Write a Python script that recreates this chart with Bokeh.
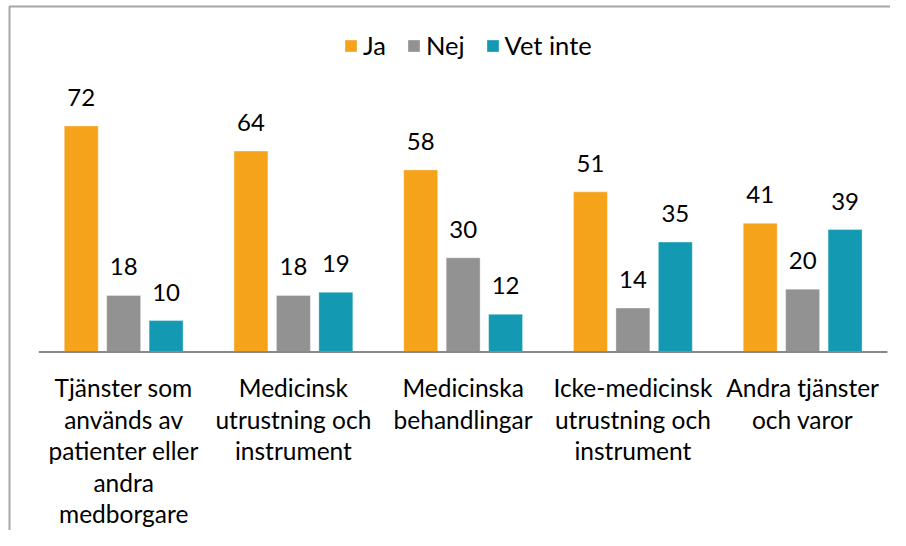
from bokeh.plotting import figure
from bokeh.models import ColumnDataSource, Range1d, Legend, LegendItem
from bokeh.transform import dodge
from bokeh.core.properties import value
from bokeh.embed import file_html
from bokeh.resources import INLINE

categories = [
    "Tjänster som\nanvänds av\npatienter eller\nandra\nmedborgare",
    "Medicinsk\nutrustning och\ninstrument",
    "Medicinska\nbehandlingar",
    "Icke-medicinsk\nutrustning och\ninstrument",
    "Andra tjänster\noch varor",
]
series_names = ["Ja", "Nej", "Vet inte"]
ja = [72, 64, 58, 51, 41]
nej = [18, 18, 30, 14, 20]
vet_inte = [10, 19, 12, 35, 39]

colors = ["#F5A31B", "#929292", "#1399B1"]
FONT = "Lato"
W, H = 890, 530

n = len(categories)
xc = [i + 0.5 for i in range(n)]

PX_X = 169.74   # pixels per category
X0 = 38.3       # pixel of first category start
PX_Y = 3.14     # pixels per unit
Y0 = 351.5      # pixel of baseline

x_lo, x_hi = -X0 / PX_X, (W - X0) / PX_X
y_lo, y_hi = -(H - Y0) / PX_Y, Y0 / PX_Y

p = figure(width=W, height=H, output_backend="svg", toolbar_location=None,
           x_range=Range1d(x_lo, x_hi), y_range=Range1d(y_lo, y_hi),
           min_border=0, min_border_left=0, min_border_right=0,
           min_border_top=0, min_border_bottom=0)
p.axis.visible = False
p.grid.visible = False
p.outline_line_color = None
p.background_fill_color = "white"
p.border_fill_color = "white"

src = ColumnDataSource(dict(x=xc, ja=ja, nej=nej, vet=vet_inte,
                            ja_t=[str(v) for v in ja], nej_t=[str(v) for v in nej],
                            vet_t=[str(v) for v in vet_inte]))

offsets = [-0.25, 0.0, 0.25]
fields = ["ja", "nej", "vet"]
renderers = []
for off, f, c in zip(offsets, fields, colors):
    r = p.vbar(x=dodge("x", off), top=f, bottom=0, width=0.2, source=src,
               fill_color=c, line_color="white", line_alpha=0.35, line_width=1)
    renderers.append(r)
    p.text(x=dodge("x", off), y=f, text=f + "_t", source=src,
           text_font=value(FONT), text_font_size="24px", text_color="black",
           text_align="center", text_baseline="alphabetic", y_offset=-28.5)

# axis line along the categories
p.line(x=[0, n], y=[0, 0], line_color="#898989", line_width=2)

# category labels, line by line
lx, ly, lt, lo = [], [], [], []
pitch = 31.6
for i, cat in enumerate(categories):
    for k, line in enumerate(cat.split("\n")):
        lx.append(xc[i]); ly.append(0); lt.append(line); lo.append(35.5 + k * pitch)
lsrc = ColumnDataSource(dict(x=lx, y=ly, t=lt, o=lo))
p.text(x="x", y="y", text="t", y_offset="o", source=lsrc,
       text_font=value(FONT), text_font_size="24.5px", text_color="black",
       text_align="center", text_baseline="alphabetic")

# chart border (left and top edges visible in crop), drawn as plain lines
bx = (9 - X0) / PX_X
by = (Y0 - 6) / PX_Y
p.line(x=[bx, bx, x_hi + 1], y=[y_lo - 1, by, by], line_color="#A6A6A6", line_width=2)

legend = Legend(items=[LegendItem(label=nm, renderers=[r]) for nm, r in zip(series_names, renderers)],
                orientation="horizontal", location=(343, 470),
                glyph_width=15, glyph_height=15, label_standoff=5, spacing=20,
                padding=0, margin=0, border_line_color=None, background_fill_alpha=0,
                label_text_font=FONT, label_text_font_size="25.5px", label_text_color="black")
p.add_layout(legend, "center")

open("out.html", "w").write(file_html(p, INLINE))
